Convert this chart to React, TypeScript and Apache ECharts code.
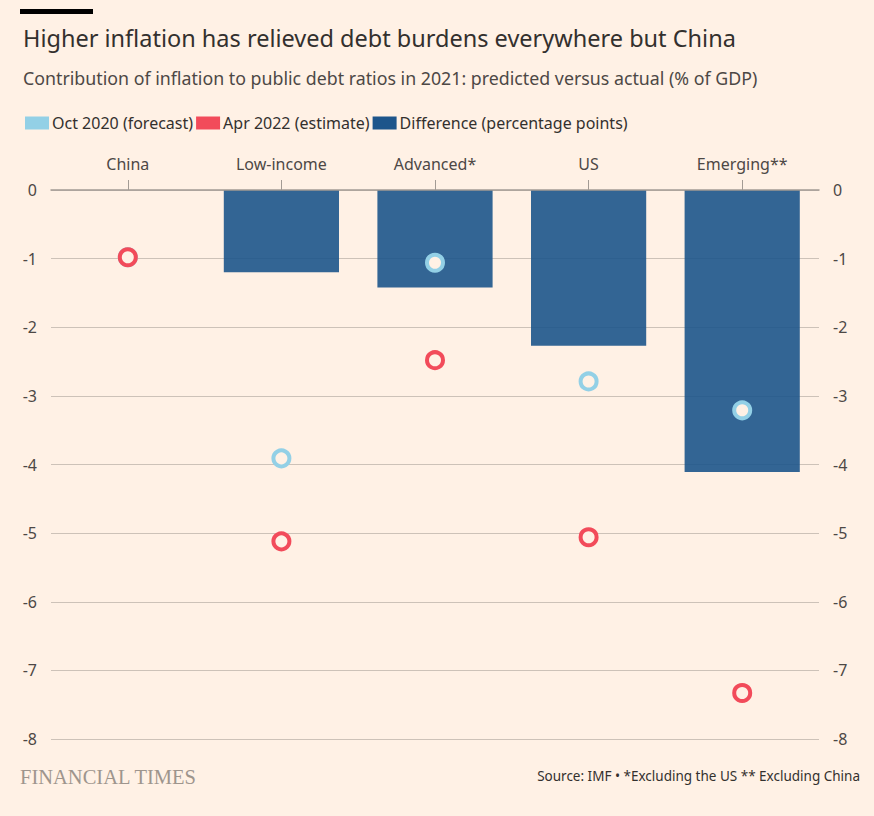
import React, { useEffect, useRef } from "react";
import * as echarts from "echarts";

const categories = ["China", "Low-income", "Advanced*", "US", "Emerging**"];
const forecastOct2020 = [-0.98, -3.91, -1.06, -2.79, -3.21];
const estimateApr2022 = [-0.98, -5.12, -2.48, -5.06, -7.33];
const difference = [0, -1.2, -1.42, -2.27, -4.11];
const yTicks = [0, -1, -2, -3, -4, -5, -6, -7, -8];

const BG = "#fff1e5";
const LIGHT_BLUE = "#93d0e6";
const RED = "#f24b5a";
const DARK_BLUE = "#1d558b";
const FONT = "'Noto Sans', sans-serif";

export default function App() {
  const ref = useRef<HTMLDivElement>(null);
  useEffect(() => {
    if (!ref.current) return;
    document.body.style.margin = "0";
    document.body.style.background = BG;
    const chart = echarts.init(ref.current, null, { renderer: "svg" });
    const yAxisCommon = {
      type: "value" as const,
      min: -8,
      max: 0,
      interval: 1,
      axisLine: { show: false },
      axisTick: { show: false },
      axisLabel: { color: "#4d4845", fontSize: 16, fontFamily: FONT, margin: 14 },
    };
    chart.setOption({
      animation: false,
      backgroundColor: BG,
      textStyle: { fontFamily: FONT },
      title: [
        {
          text: "Higher inflation has relieved debt burdens everywhere but China",
          left: 18,
          top: 21,
          textStyle: { fontSize: 23.5, fontWeight: "normal", color: "#33302e", fontFamily: FONT },
        },
        {
          text: "Contribution of inflation to public debt ratios in 2021: predicted versus actual (% of GDP)",
          left: 18,
          top: 64,
          textStyle: { fontSize: 17.8, fontWeight: "normal", color: "#4d4845", fontFamily: FONT },
        },
      ],
      legend: {
        left: 20,
        top: 110,
        itemWidth: 24,
        itemHeight: 13,
        itemGap: 3,
        icon: "rect",
        textStyle: { fontSize: 16, color: "#33302e", fontFamily: FONT, padding: [0, 0, 0, -2] },
        data: [
          { name: "Oct 2020 (forecast)", itemStyle: { color: LIGHT_BLUE, borderWidth: 0 } },
          { name: "Apr 2022 (estimate)", itemStyle: { color: RED, borderWidth: 0 } },
          { name: "Difference (percentage points)", itemStyle: { color: DARK_BLUE, borderWidth: 0, opacity: 1 } },
        ],
      },
      grid: { left: 51, right: 55, top: 190, bottom: 77, containLabel: false },
      xAxis: {
        type: "category",
        data: categories,
        position: "top",
        axisLine: { show: true, lineStyle: { color: "#a39b94", width: 1.5 } },
        axisTick: { show: true, alignWithLabel: true, length: 10, lineStyle: { color: "#a39b94" } },
        axisLabel: { color: "#4d4845", fontSize: 16, fontFamily: FONT, margin: 18 },
        splitLine: { show: false },
        z: 10,
      },
      yAxis: [
        {
          ...yAxisCommon,
          position: "left",
          splitLine: { show: true, lineStyle: { color: "#cdc2b8", width: 1 } },
          axisLabel: { ...yAxisCommon.axisLabel, formatter: (v: number) => (yTicks.includes(v) ? String(v) : "") },
        },
        {
          ...yAxisCommon,
          position: "right",
          splitLine: { show: false },
          axisLabel: { ...yAxisCommon.axisLabel, formatter: (v: number) => (yTicks.includes(v) ? String(v) : "") },
        },
      ],
      series: [
        {
          name: "Difference (percentage points)",
          type: "bar",
          data: difference,
          barWidth: "75%",
          itemStyle: { color: DARK_BLUE, opacity: 0.9 },
          z: 2,
        },
        {
          name: "Oct 2020 (forecast)",
          type: "scatter",
          data: forecastOct2020,
          symbol: "circle",
          symbolSize: 16,
          itemStyle: { color: BG, borderColor: LIGHT_BLUE, borderWidth: 4, opacity: 1 },
          z: 3,
        },
        {
          name: "Apr 2022 (estimate)",
          type: "scatter",
          data: estimateApr2022,
          symbol: "circle",
          symbolSize: 16,
          itemStyle: { color: BG, borderColor: RED, borderWidth: 4, opacity: 1 },
          z: 4,
        },
      ],
      graphic: [
        { type: "rect", left: 20, top: 9, shape: { width: 73, height: 5 }, style: { fill: "#000" } },
        {
          type: "text",
          left: 20,
          top: 766,
          style: {
            text: "FINANCIAL TIMES",
            font: "20.5px 'Liberation Serif', 'DejaVu Serif', serif",
            fill: "#9e958d",
          },
        },
        {
          type: "text",
          right: 14,
          top: 769,
          style: {
            text: "Source: IMF \u2022 *Excluding the US ** Excluding China",
            font: `13.5px ${FONT}`,
            fill: "#33302e",
          },
        },
      ],
    });
    return () => chart.dispose();
  }, []);
  return <div ref={ref} style={{ position: "absolute", left: 0, top: 0, width: 874, height: 816 }} />;
}
